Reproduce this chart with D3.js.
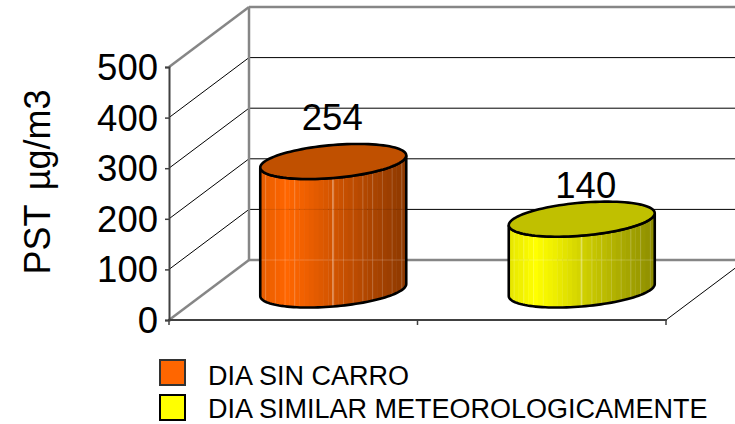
<!DOCTYPE html>
<html><head><meta charset="utf-8">
<script src="https://cdn.jsdelivr.net/npm/d3@7"></script>
<style>html,body{margin:0;padding:0;background:#fff}svg{display:block}text{font-family:"Liberation Sans",Arial,sans-serif;fill:#000}</style>
</head><body><svg id="c" width="735" height="424"></svg>
<script>
const categories = ["DIA SIN CARRO", "DIA SIMILAR METEOROLOGICAMENTE"];
const values = [254, 140];
const tickValues = [0, 100, 200, 300, 400, 500];
const axisTitle = "PST µg/m3";
const topColors = ["#c05000", "#c0c000"];
const baseColors = [[255,102,0],[255,255,0]];
const legendColors = ["#ff6600", "#ffff00"];
const legendBorders = ["#333", "#000"];
const labelOffsets = [{dx: -1, dy: -31}, {dx: 4, dy: -21}];

const svg = d3.select("#c");
const defs = svg.append("defs");
const depth = {x: 80, y: -60};
const y = d3.scaleLinear().domain([0, 500]).range([320, 67]);
const x = d3.scaleBand().domain(categories).range([169, 666]);
const W = 760;

const grid = svg.append("g");
tickValues.forEach(v => {
  const edge = v === 0 || v === 500;
  const col = edge ? "#868686" : "#000";
  const sw = edge ? 2.5 : 1;
  grid.append("line").attr("x1", 169).attr("y1", y(v)).attr("x2", 169 + depth.x).attr("y2", y(v) + depth.y)
    .attr("stroke", col).attr("stroke-width", sw);
  grid.append("line").attr("x1", 169 + depth.x).attr("y1", y(v) + depth.y).attr("x2", W).attr("y2", y(v) + depth.y)
    .attr("stroke", col).attr("stroke-width", sw);
});
grid.append("line").attr("x1", 249).attr("y1", y(0) + depth.y).attr("x2", 249).attr("y2", y(500) + depth.y)
  .attr("stroke", "#868686").attr("stroke-width", 2.5);
grid.append("line").attr("x1", 666).attr("y1", 320).attr("x2", 666 + depth.x).attr("y2", 320 + depth.y)
  .attr("stroke", "#000").attr("stroke-width", 1);

const yAxis = svg.append("g").attr("transform", "translate(169,0)")
  .call(d3.axisLeft(y).tickValues(tickValues).tickSize(4).tickPadding(7));
yAxis.selectAll("text").attr("font-size", 36.5).attr("dy", "0.34em");
yAxis.select(".domain").attr("stroke", "#404040").attr("stroke-width", 2);
yAxis.selectAll(".tick line").attr("stroke", "#404040").attr("stroke-width", 1.5);
const xAxis = svg.append("g").attr("transform", "translate(0,320)");
xAxis.append("line").attr("x1", 168).attr("x2", 667).attr("stroke", "#404040").attr("stroke-width", 2);
[169, 169 + x.bandwidth(), 666].forEach(px => {
  xAxis.append("line").attr("x1", px).attr("x2", px).attr("y1", 0).attr("y2", 5).attr("stroke", "#404040").attr("stroke-width", 1.5);
});

const a = 73, shear = 6, b = 16.5;
const ring = (cx, cy, t0, t1, n) => d3.range(n + 1).map(i => {
  const t = t0 + (t1 - t0) * i / n;
  return [cx + a * Math.cos(t), cy - shear * Math.cos(t) + b * Math.sin(t)];
});
const path = d3.line();
const stops = [[0,0.90],[0.18,1],[0.32,0.93],[0.5,0.82],[0.75,0.68],[1,0.55]];
const shade = d3.scaleLinear().domain(stops.map(d => d[0])).range(stops.map(d => d[1]));
const stripeCount = 30;

categories.forEach((cat, i) => {
  const cx = x(cat) + x.bandwidth() / 2 + depth.x / 2;
  const cy0 = y(0) + depth.y / 2;
  const cy1 = y(values[i]) + depth.y / 2;
  const front = ring(cx, cy1, Math.PI, 0, 60).concat(ring(cx, cy0, 0, Math.PI, 60));
  const g = svg.append("g");
  const id = "clip" + i;
  defs.append("clipPath").attr("id", id).append("path").attr("d", path(front) + "Z");
  const body = g.append("g").attr("clip-path", `url(#${id})`);
  const rgb = baseColors[i];
  d3.range(stripeCount).forEach(k => {
    const f = (k + 0.5) / stripeCount;
    const s = shade(f);
    const w = 2 * a / stripeCount;
    body.append("rect").attr("x", cx - a + k * w).attr("y", 0).attr("width", w + 0.4).attr("height", 424)
      .attr("fill", `rgb(${rgb.map(c => Math.round(c * s)).join(",")})`);
    if (k % 2 === 1 && (k < 8 || k > 14))
      body.append("rect").attr("x", cx - a + k * w).attr("y", 0).attr("width", 1).attr("height", 424)
        .attr("fill", "#fff").attr("opacity", 0.18);
  });
  body.append("rect").attr("x", cx - 1).attr("y", 0).attr("width", 1).attr("height", 424).attr("fill", "#fff").attr("opacity", 0.45);
  tickValues.forEach(v => {
    body.append("line").attr("x1", cx - a).attr("x2", cx + a).attr("y1", y(v) + depth.y).attr("y2", y(v) + depth.y)
      .attr("stroke", v === 0 ? "#fff" : "#000").attr("stroke-width", 1).attr("opacity", v === 0 ? 0.2 : 0.1);
  });
  g.append("path").attr("d", path(front) + "Z").attr("fill", "none").attr("stroke", "#000").attr("stroke-width", 2.6);
  g.append("path").attr("d", path(ring(cx, cy1, 0, 2 * Math.PI, 100)) + "Z")
    .attr("fill", topColors[i]).attr("stroke", "#000").attr("stroke-width", 2.6);
  svg.append("text").attr("x", cx + labelOffsets[i].dx).attr("y", cy1 + labelOffsets[i].dy)
    .attr("text-anchor", "middle").attr("font-size", 36.5).text(values[i]);
});

svg.append("text").attr("transform", "translate(50,182) rotate(-90)").attr("text-anchor", "middle")
  .attr("word-spacing", 5).attr("font-size", 36).text(axisTitle);

const legendY = [372.5, 407.5];
const legendBaselines = [385, 418];
categories.forEach((cat, i) => {
  svg.append("rect").attr("x", 160).attr("y", legendY[i] - 12.5).attr("width", 25).attr("height", 25)
    .attr("fill", legendColors[i]).attr("stroke", legendBorders[i]).attr("stroke-width", 2);
  svg.append("text").attr("x", 208).attr("y", legendBaselines[i]).attr("font-size", 27).text(cat);
});
</script></body></html>
